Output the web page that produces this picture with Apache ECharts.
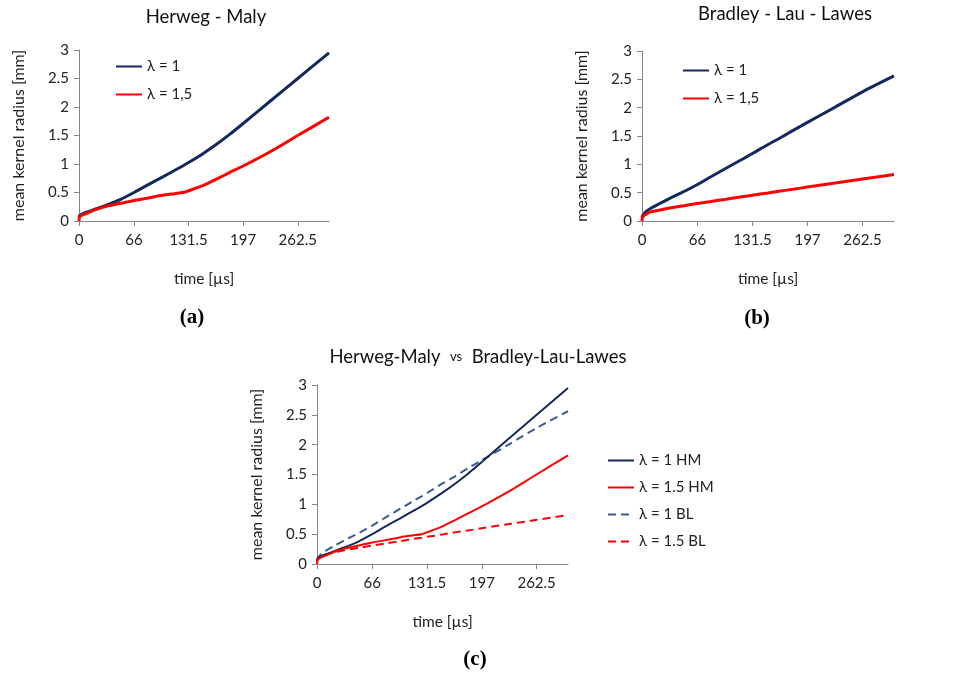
<!DOCTYPE html>
<html>
<head>
<meta charset="utf-8">
<script src="https://cdn.jsdelivr.net/npm/echarts@6/dist/echarts.min.js"></script>
<style>
html,body{margin:0;padding:0;background:#fff;}
#chart{width:976px;height:675px;}
</style>
</head>
<body>
<div id="chart"></div>
<script>
var time_us = [0, 1, 5, 10, 20, 33, 50, 66, 82, 100, 115, 125, 131.5, 150, 165, 180, 197, 230, 262.5, 300];
var hm_l1   = [0.06, 0.1, 0.13, 0.16, 0.21, 0.28, 0.38, 0.5, 0.63, 0.77, 0.89, 0.97, 1.025, 1.195, 1.345, 1.51, 1.71, 2.11, 2.5, 2.95];
var hm_l15  = [0, 0.08, 0.11, 0.14, 0.2, 0.26, 0.31, 0.36, 0.4, 0.45, 0.48, 0.5, 0.53, 0.63, 0.735, 0.845, 0.965, 1.22, 1.5, 1.82];
var bl_l1   = [0.06, 0.1, 0.17, 0.22, 0.3, 0.4, 0.52, 0.645, 0.78, 0.93, 1.055, 1.135, 1.19, 1.35, 1.47, 1.6, 1.74, 2.01, 2.28, 2.56];
var bl_l15  = [0, 0.08, 0.12, 0.16, 0.19, 0.23, 0.27, 0.31, 0.345, 0.385, 0.42, 0.44, 0.455, 0.495, 0.53, 0.56, 0.6, 0.67, 0.74, 0.82];
var x_ticks = [0, 66, 131.5, 197, 262.5];

var navy = '#14285E';
var navyLight = '#3A5C8E';
var red = '#FF0000';
var axisGray = '#868686';
var font = "Lato, 'Noto Sans', sans-serif";

function pairs(vals){
	var out = [];
	for (var i = 0; i < time_us.length; i++) {
		out.push([time_us[i], vals[i]]);
	}
	return out;
}

function xAxisFor(idx){
	return {
		type: 'value', gridIndex: idx, min: 0, max: 300,
		name: 'time [\u00b5s]', nameLocation: 'middle', nameGap: 50,
		nameTextStyle: {fontFamily: font, fontSize: 15.5, color: '#222'},
		axisLine: {show: true, lineStyle: {color: axisGray, width: 1}},
		axisTick: {show: true, length: 5, customValues: x_ticks, lineStyle: {color: axisGray}},
		axisLabel: {customValues: x_ticks, margin: 12, fontFamily: font, fontSize: 15, color: '#222'},
		splitLine: {show: false}
	};
}

function yAxisFor(idx){
	return {
		type: 'value', gridIndex: idx, min: 0, max: 3, interval: 0.5,
		name: 'mean kernel radius [mm]', nameLocation: 'middle', nameGap: 52, nameRotate: 90,
		nameTextStyle: {fontFamily: font, fontSize: 16, color: '#222'},
		axisLine: {show: true, lineStyle: {color: axisGray, width: 1}},
		axisTick: {show: true, length: 5, lineStyle: {color: axisGray}},
		axisLabel: {margin: 10, fontFamily: font, fontSize: 15, color: '#222'},
		splitLine: {show: false}
	};
}

function lineSeries(name, idx, vals, color, width, dashed){
	return {
		name: name, type: 'line', xAxisIndex: idx, yAxisIndex: idx,
		data: pairs(vals), showSymbol: false, symbol: 'none', smooth: 0.25,
		lineStyle: {color: color, width: width, type: dashed ? [8, 5] : 'solid'},
		itemStyle: {color: color},
		z: dashed ? 2 : 3
	};
}

var legendText = {fontFamily: font, fontSize: 15, color: '#222'};
// hide the circle ECharts puts on line legend icons
var legendNoDot = {opacity: 0};

var option = {
	animation: false,
	grid: [
		{left: 79, top: 50, width: 250, height: 171},
		{left: 642, top: 51, width: 252, height: 170},
		{left: 317, top: 385, width: 251, height: 179}
	],
	xAxis: [xAxisFor(0), xAxisFor(1), xAxisFor(2)],
	yAxis: [yAxisFor(0), yAxisFor(1), yAxisFor(2)],
	legend: [
		{data: ['λ = 1', 'λ = 1,5'], orient: 'vertical', left: 110, top: 54, itemWidth: 26, itemHeight: 14, itemGap: 13, textStyle: legendText, itemStyle: legendNoDot, selectedMode: false},
		{data: ['λ = 1 ', 'λ = 1,5 '], orient: 'vertical', left: 677, top: 58, itemWidth: 26, itemHeight: 14, itemGap: 13, textStyle: legendText, itemStyle: legendNoDot, selectedMode: false},
		{data: ['λ = 1 HM', 'λ = 1.5 HM', 'λ = 1 BL', 'λ = 1.5 BL'], orient: 'vertical', left: 602, top: 448, itemWidth: 26, itemHeight: 14, itemGap: 12, textStyle: legendText, itemStyle: legendNoDot, selectedMode: false}
	],
	graphic: [
		{type: 'text', x: 206, y: 17, style: {text: 'Herweg - Maly', font: "18.5px Lato, 'Noto Sans', sans-serif", fill: '#111', align: 'center', verticalAlign: 'middle'}},
		{type: 'text', x: 785, y: 14, style: {text: 'Bradley - Lau - Lawes', font: "18.5px Lato, 'Noto Sans', sans-serif", fill: '#111', align: 'center', verticalAlign: 'middle'}},
		{type: 'text', x: 478, y: 357, style: {
			text: '{a|Herweg-Maly  }{b|vs}{a|  Bradley-Lau-Lawes}', align: 'center', verticalAlign: 'middle',
			rich: {
				a: {fontFamily: font, fontSize: 18.5, fill: '#111'},
				b: {fontFamily: font, fontSize: 13, fill: '#111'}
			}
		}},
		{type: 'text', x: 192, y: 318, style: {text: '(a)', font: "bold 21px 'Liberation Serif', serif", fill: '#000', align: 'center', verticalAlign: 'middle'}},
		{type: 'text', x: 757, y: 319, style: {text: '(b)', font: "bold 21px 'Liberation Serif', serif", fill: '#000', align: 'center', verticalAlign: 'middle'}},
		{type: 'text', x: 475, y: 660, style: {text: '(c)', font: "bold 21px 'Liberation Serif', serif", fill: '#000', align: 'center', verticalAlign: 'middle'}}
	],
	series: [
		lineSeries('λ = 1', 0, hm_l1, navy, 3, false),
		lineSeries('λ = 1,5', 0, hm_l15, red, 3, false),
		lineSeries('λ = 1 ', 1, bl_l1, navy, 3, false),
		lineSeries('λ = 1,5 ', 1, bl_l15, red, 3, false),
		lineSeries('λ = 1 HM', 2, hm_l1, navy, 2, false),
		lineSeries('λ = 1.5 HM', 2, hm_l15, red, 2, false),
		lineSeries('λ = 1 BL', 2, bl_l1, navyLight, 2, true),
		lineSeries('λ = 1.5 BL', 2, bl_l15, red, 2, true)
	]
};

var chart = echarts.init(document.getElementById('chart'));
chart.setOption(option);
</script>
</body>
</html>
